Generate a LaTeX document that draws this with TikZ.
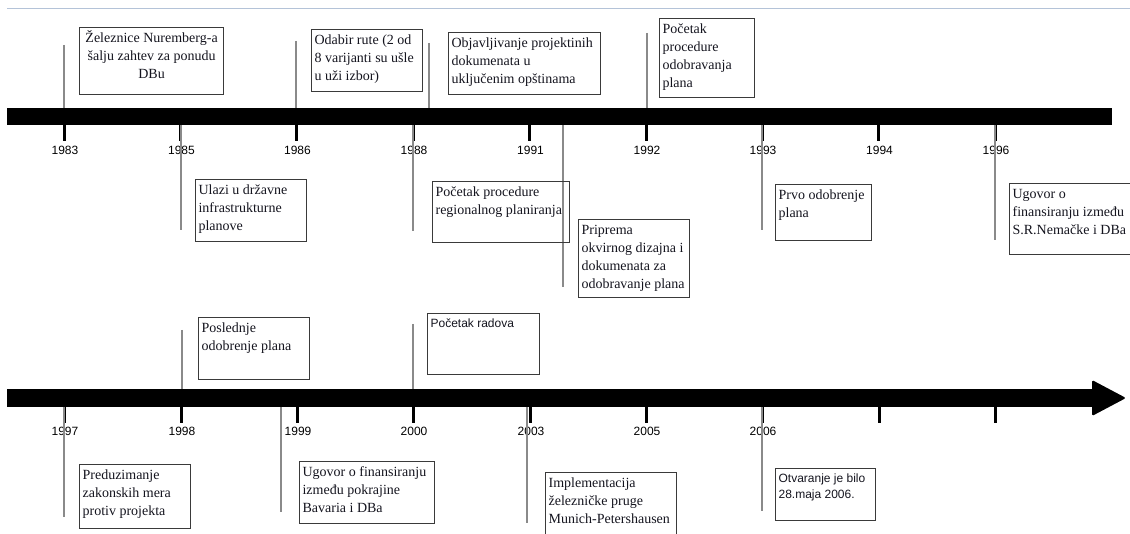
\documentclass[tikz,border=0pt]{standalone}
\usepackage{fontspec}
\setmainfont{Liberation Serif}
\setsansfont{Liberation Sans}
\definecolor{txt}{HTML}{14141E}
\definecolor{topln}{HTML}{B4C3D8}
\definecolor{evgray}{HTML}{8A8A8A}
\definecolor{boxgray}{HTML}{3A3A3A}
\newcommand\evbox[8]{\node[ebox,font=#6] (#1) at (#2,#3) {\parbox[t][\dimexpr#5pt-4pt\relax][t]{\dimexpr#4pt-6pt\relax}{\raggedright\rule{0pt}{#7pt}#8}};}
\tikzset{
  barfill/.style={fill=black, draw=none, inner sep=0pt, anchor=north west},
  tickmark/.style={line width=3pt},
  yearlab/.style={font=\sffamily\fontsize{12}{14}\selectfont, inner sep=0pt},
  evline/.style={draw=evgray, line width=1.4pt},
  ebox/.style={draw=boxgray, line width=1.2pt, anchor=north west, inner xsep=3pt, inner ysep=2pt, text=txt},
  serifbox/.style={},
}
\begin{document}
\begin{tikzpicture}[x=1pt,y=-1pt]
\useasboundingbox (0,0) rectangle (1130,534);
% top thin line
\coordinate (tl0) at (7,9);
\coordinate (tl1) at (1130,9);
\draw[topln, line width=1pt] (tl0) -- (tl1);
% bars
\node[barfill, minimum width=1105pt, minimum height=17pt] (bar1) at (7,108) {};
\node[barfill, minimum width=1093pt, minimum height=18pt] (bar2) at (7,389) {};
\fill[rounded corners=1.5pt, line join=round] (1092,380) -- (1126,398) -- (1092,416) -- cycle;
% ticks row 1
\foreach \x/\yr [count=\i] in {64/1983,180.5/1985,296.5/1986,413/1988,529.5/1991,646/1992,762/1993,878.5/1994,995/1996}{
  \coordinate (ta\i) at (\x,141);
  \draw[tickmark] (ta\i |- bar1.south) -- (ta\i);
  \node[yearlab] (ya\i) at (\x+1,150) {\yr};
}
% ticks row 2
\foreach \x/\yr [count=\i] in {64/1997,181/1998,297/1999,413/2000,530/2003,646/2005,762/2006}{
  \coordinate (tb\i) at (\x,423);
  \draw[tickmark] (tb\i |- bar2.south) -- (tb\i);
  \node[yearlab] (yb\i) at (\x+1,431) {\yr};
}
\foreach \x [count=\i] in {879,995}{
  \coordinate (tc\i) at (\x,423);
  \draw[tickmark] (tc\i |- bar2.south) -- (tc\i);
}
% event lines row 1
\foreach \x/\y [count=\i] in {64/45,296/41,429/43,647/33}{
  \coordinate (ua\i) at (\x,\y);
  \draw[evline] (ua\i) -- (ua\i |- bar1.north);
}
\foreach \x/\y [count=\i] in {181/230,413/231,563/287,762/230,995/240}{
  \coordinate (da\i) at (\x,\y);
  \draw[evline] (da\i |- bar1.south) -- (da\i);
}
% event lines row 2
\foreach \x/\y [count=\i] in {182/330,413/324}{
  \coordinate (ub\i) at (\x,\y);
  \draw[evline] (ub\i) -- (ub\i |- bar2.north);
}
\foreach \x/\y [count=\i] in {64/517,281/512,527/523,762/511}{
  \coordinate (db\i) at (\x,\y);
  \draw[evline] (db\i |- bar2.south) -- (db\i);
}
% boxes
\def\sf{\fontsize{14}{18}\selectfont}
\evbox{b1}{79}{27}{144}{67}{\sf}{13}{\centering Železnice Nuremberg-a\\šalju zahtev za ponudu\\DBu}
\evbox{b2}{311}{29}{111}{62}{\sf}{13}{Odabir rute (2 od\\8 varijanti su ušle\\u uži izbor)}
\evbox{b3}{448}{32}{152}{62}{\sf}{13}{Objavljivanje projektinih\\dokumenata u\\uključenim opštinama}
\evbox{b4}{659}{18}{95}{79}{\sf}{13}{Početak\\procedure\\odobravanja\\plana}
\evbox{b5}{195}{179}{111}{62}{\sf}{13}{Ulazi u državne\\infrastrukturne\\planove}
\evbox{b6}{432}{181}{137}{61}{\sf}{13}{Početak procedure\\regionalnog planiranja}
\evbox{b7}{578}{219}{111}{78}{\sf}{13}{Priprema\\okvirnog dizajna i\\dokumenata za\\odobravanje plana}
\evbox{b8}{775}{184}{96}{56}{\sf}{13}{Prvo odobrenje\\plana}
\evbox{b9}{1009}{183}{140}{71}{\sf}{13}{Ugovor o\\finansiranju između\\S.R.Nemačke i DBa}
\evbox{b10}{198}{317}{111}{62}{\sf}{13}{Poslednje\\odobrenje plana}
\evbox{b11}{427}{313}{112}{61}{\sffamily\fontsize{12}{15.5}\selectfont}{12}{Početak radova}
\evbox{b12}{79}{464}{111}{64}{\sf}{13}{Preduzimanje\\zakonskih mera\\protiv projekta}
\evbox{b13}{299}{461}{135}{62}{\sf}{13}{Ugovor o finansiranju\\između pokrajine\\Bavaria i DBa}
\evbox{b14}{545}{472}{131}{80}{\sf}{13}{Implementacija\\železničke pruge\\Munich-Petershausen}
\evbox{b15}{775}{468}{100}{52}{\sffamily\fontsize{12}{15.5}\selectfont}{12}{Otvaranje je bilo\\28.maja 2006.}
\end{tikzpicture}
\end{document}
